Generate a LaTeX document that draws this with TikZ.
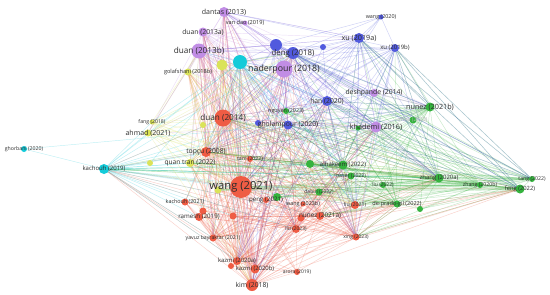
\documentclass[tikz,border=0pt]{standalone}
\usepackage{fontspec}
\setmainfont{Open Sans}
\usepackage{tikz}
\usetikzlibrary{backgrounds}
\definecolor{vred}{RGB}{238, 78, 52}
\definecolor{vgreen}{RGB}{35, 172, 45}
\definecolor{vblue}{RGB}{62, 72, 218}
\definecolor{vpurple}{RGB}{186, 128, 226}
\definecolor{vcyan}{RGB}{0, 198, 214}
\definecolor{vyellow}{RGB}{214, 224, 70}
\definecolor{labelgray}{RGB}{45, 45, 45}

\begin{document}
\begin{tikzpicture}[x=1pt, y=-1pt,
  pt/.style={circle, inner sep=0pt, minimum size=#1},
  lbl/.style={font=\fontsize{#1}{#1}\selectfont, text=labelgray, inner sep=0pt},
  rd/.style={fill=vred!92},
  gr/.style={fill=vgreen!92},
  bl/.style={fill=vblue!90},
  pu/.style={fill=vpurple!90},
  cy/.style={fill=vcyan!92},
  ye/.style={fill=vyellow!90},
  link/.style={line width=0.45pt, draw opacity=0.25}
]
\useasboundingbox (0,0) rectangle (550,295);

% purple cluster
\node[pt=10, pu] (dantas13) at (224,12) {};
\node[pt=5, pu] (vandao19) at (245,23) {};
\node[pt=9, pu] (duan13a) at (203,32) {};
\node[pt=15, pu] (duan13b) at (199,51) {};
\node[pt=17, pu] (naderpour18) at (284,69) {};
\node[pt=8, pu] (deshpande14) at (374,93) {};
\node[pt=11, pu] (khademi16) at (376,127) {};

% blue cluster
\node[pt=12, bl] (blue45) at (276,45) {};
\node[pt=12, bl] (deng18) at (293,53) {};
\node[pt=6, bl] (blue47) at (323,47) {};
\node[pt=10, bl] (xu19a) at (359,38) {};
\node[pt=8, bl] (xu19b) at (395,48) {};
\node[pt=5, bl] (wang20) at (381,17) {};
\node[pt=10, bl] (han20) at (327,101) {};
\node[pt=6, bl] (blue123) at (258,123) {};
\node[pt=9, bl] (gholampour20) at (288,125) {};

% green cluster
\node[pt=6, gr] (nguyen23) at (286,111) {};
\node[pt=5, gr] (green128) at (358,128) {};
\node[pt=9, gr] (nunez21b) at (430,107) {};
\node[pt=7, gr] (zhao23) at (413,120) {};
\node[pt=9, gr] (zhang20a) at (439,178) {};
\node[pt=6, gr] (zhang20b) at (480,185) {};
\node[pt=6, gr] (tang22) at (532,179) {};
\node[pt=9, gr] (feng22) at (520,189) {};
\node[pt=6, gr] (green209) at (420,209) {};
\node[pt=7, gr] (deprado22) at (397,204) {};
\node[pt=6, gr] (liu22) at (383,185) {};
\node[pt=7, gr] (naser22) at (351,176) {};
\node[pt=8, gr] (green164) at (310,164) {};
\node[pt=9, gr] (alhakeem22) at (343,165) {};
\node[pt=7, gr] (dabiri22) at (319,192) {};
\node[pt=8, gr] (green197) at (277,197) {};

% cyan cluster
\node[pt=14, cy] (cyan62) at (240,62) {};
\node[pt=10, cy] (kachouh19) at (104,169) {};
\node[pt=6, cy] (ghorbani20) at (24,149) {};

% yellow cluster
\node[pt=11, ye] (yellow65) at (222,65) {};
\node[pt=7, ye] (golafshani18b) at (188,72) {};
\node[pt=5, ye] (fang18) at (152,122) {};
\node[pt=7, ye] (ahmad21) at (148,133) {};
\node[pt=6, ye] (yellow125) at (203,125) {};
\node[pt=6, ye] (yellow163) at (150,163) {};
\node[pt=8, ye] (quantran22) at (190,163) {};
\node[pt=7, ye] (yellow190) at (218,190) {};

% red cluster
\node[pt=17, rd] (duan14) at (223,118) {};
\node[pt=10, rd] (topcu08) at (206,152) {};
\node[pt=6, rd] (tam22) at (250,159) {};
\node[pt=22, rd] (wang21) at (241,187) {};
\node[pt=6, rd] (peng21) at (266,200) {};
\node[pt=5, rd] (wang23b) at (303,204) {};
\node[pt=8, rd] (liu21) at (355,205) {};
\node[pt=7, rd] (red218) at (301,218) {};
\node[pt=8, rd] (nunez21a) at (320,216) {};
\node[pt=8, rd] (liu23) at (296,229) {};
\node[pt=7, rd] (xing23) at (356,237) {};
\node[pt=7, rd] (kachouh21) at (185,202) {};
\node[pt=7, rd] (red211) at (203,211) {};
\node[pt=8, rd] (ramesh19) at (199,217) {};
\node[pt=7, rd] (red216) at (233,216) {};
\node[pt=7, rd] (yavuz21) at (213,238) {};
\node[pt=8, rd] (kazmi20a) at (237,261) {};
\node[pt=6, rd] (red266) at (231,266) {};
\node[pt=9, rd] (kazmi20b) at (255,269) {};
\node[pt=12, rd] (kim18) at (252,285) {};
\node[pt=6, rd] (arora19) at (297,272) {};

% labels, on top of every circle
\foreach \n/\s/\t in {dantas13/7/dantas (2013), vandao19/5.6/van dao (2019), duan13a/6.8/duan (2013a),
    duan13b/8.2/duan (2013b), naderpour18/8.8/naderpour (2018), deshpande14/6.8/deshpande (2014),
    khademi16/7.3/khademi (2016), deng18/7.8/deng (2018), xu19a/7.2/xu (2019a), xu19b/6/xu (2019b),
    wang20/5.4/wang (2020), han20/6.8/han (2020), gholampour20/6.8/gholampour (2020),
    nguyen23/5.4/nguyen (2023), nunez21b/7.2/nunez (2021b), zhang20a/6/zhang (2020a),
    zhang20b/5.2/zhang (2020b), tang22/5.2/tang (2022), feng22/5.8/feng (2022),
    deprado22/5.6/de-prado-gil (2022), liu22/5/liu (2022), naser22/5.2/naser (2022),
    alhakeem22/6/alhakeem (2022), dabiri22/5/dabiri (2022), kachouh19/6/kachouh (2019),
    ghorbani20/5.2/ghorbani (2020), golafshani18b/5.6/golafshani (2018b), fang18/5.2/fang (2018),
    ahmad21/7/ahmad (2021), quantran22/6.6/quan tran (2022), duan14/8.2/duan (2014),
    topcu08/6.8/topçu (2008), tam22/5.2/tam (2022), wang21/11.2/wang (2021), peng21/6.2/peng (2021),
    wang23b/5.4/wang (2023b), liu21/5.2/liu (2021), nunez21a/6.4/nunez (2021a), liu23/5/liu (2023),
    xing23/5/xing (2023), kachouh21/5.4/kachouh (2021), ramesh19/6.2/ramesh (2019),
    yavuz21/5.2/yavuz bayraktar (2021), kazmi20a/5.9/kazmi (2020a), kazmi20b/5.9/kazmi (2020b),
    kim18/6.8/kim (2018), arora19/5/arora (2019)}
  \node[lbl=\s] (\n-lab) at (\n) {\t};
\node[lbl=5.4, text=black!30] (zhao23-lab) at (zhao23) {zhao (2023)};

\begin{scope}[on background layer]
\fill[white] (0,0) rectangle (550,295);
% links, coloured by the citing cluster
\foreach \s in {wang21,duan14,kim18,kazmi20a,kazmi20b,xing23,yavuz21,topcu08,nunez21a,liu23}
  \foreach \t in {tam22,liu21,red218,kachouh21,ramesh19,red211,red216,red266,arora19,wang23b,peng21,naderpour18,duan13b,dantas13,deng18,gholampour20,han20,khademi16,zhang20a,feng22,alhakeem22,naser22,dabiri22,deprado22,quantran22,yellow190,kachouh19,golafshani18b,cyan62,yellow65,duan13a}
    \draw[link, vred] (\s.center) -- (\t.center);
\foreach \s/\t in {wang21/duan14,wang21/kim18,wang21/kazmi20a,wang21/kazmi20b,wang21/xing23,wang21/yavuz21,wang21/topcu08,duan14/topcu08,duan14/kim18,kim18/kazmi20a,kim18/kazmi20b,kim18/xing23,kazmi20a/kazmi20b,yavuz21/kim18,nunez21a/kim18,liu23/kim18,liu23/wang21}
  \draw[link, vred] (\s.center) -- (\t.center);
\foreach \s in {zhang20a,feng22,nunez21b,alhakeem22,zhang20b,tang22,deprado22}
  \foreach \t in {khademi16,naser22,liu22,dabiri22,green164,green197,nguyen23,green128,zhao23,green209,wang21,duan14,topcu08,gholampour20,han20,deng18,kachouh19,quantran22,liu21,xing23,nunez21a,deshpande14,xu19b,xu19a,tam22,yellow190}
    \draw[link, vgreen] (\s.center) -- (\t.center);
\foreach \s/\t in {zhang20a/feng22,zhang20a/zhang20b,zhang20a/tang22,zhang20a/nunez21b,feng22/tang22,feng22/zhang20b,nunez21b/alhakeem22,deprado22/zhang20a}
  \draw[link, vgreen] (\s.center) -- (\t.center);
\foreach \s in {deng18,xu19a,xu19b,gholampour20,han20,blue45}
  \foreach \t in {wang20,blue47,nunez21b,khademi16,zhang20a,feng22,tang22,deshpande14,naderpour18,duan13b,dantas13,duan14,wang21,kim18,topcu08,nguyen23,alhakeem22,zhao23,kazmi20a,xing23,liu21,cyan62}
    \draw[link, vblue] (\s.center) -- (\t.center);
\foreach \s in {naderpour18,duan13b,dantas13,duan13a,khademi16}
  \foreach \t in {vandao19,deng18,xu19a,wang21,duan14,topcu08,kim18,kazmi20b,gholampour20,han20,quantran22,golafshani18b,yellow65,cyan62,zhang20a,nunez21b,liu23,xing23,ahmad21,yavuz21,blue45,nguyen23}
    \draw[link, vpurple] (\s.center) -- (\t.center);
\foreach \s in {kachouh19,cyan62}
  \foreach \t in {ahmad21,fang18,quantran22,yellow163,topcu08,duan14,wang21,gholampour20,tam22,alhakeem22,zhang20a,nunez21a,liu21,naser22,dabiri22,ramesh19,kachouh21,red216,yavuz21,deng18,han20,khademi16,kazmi20a,liu23,green164}
    \draw[link, vcyan] (\s.center) -- (\t.center);
\foreach \s/\t in {ghorbani20/kachouh19,ghorbani20/gholampour20,kachouh19/cyan62,cyan62/naderpour18,cyan62/duan13b}
  \draw[link, vcyan] (\s.center) -- (\t.center);
\foreach \s in {quantran22,ahmad21,golafshani18b,yellow65,fang18}
  \foreach \t in {wang21,duan14,topcu08,duan13b,naderpour18,gholampour20,tam22,liu21,kim18,zhang20a,yellow190,deng18}
    \draw[link, vyellow] (\s.center) -- (\t.center);
\end{scope}
\end{tikzpicture}
\end{document}
